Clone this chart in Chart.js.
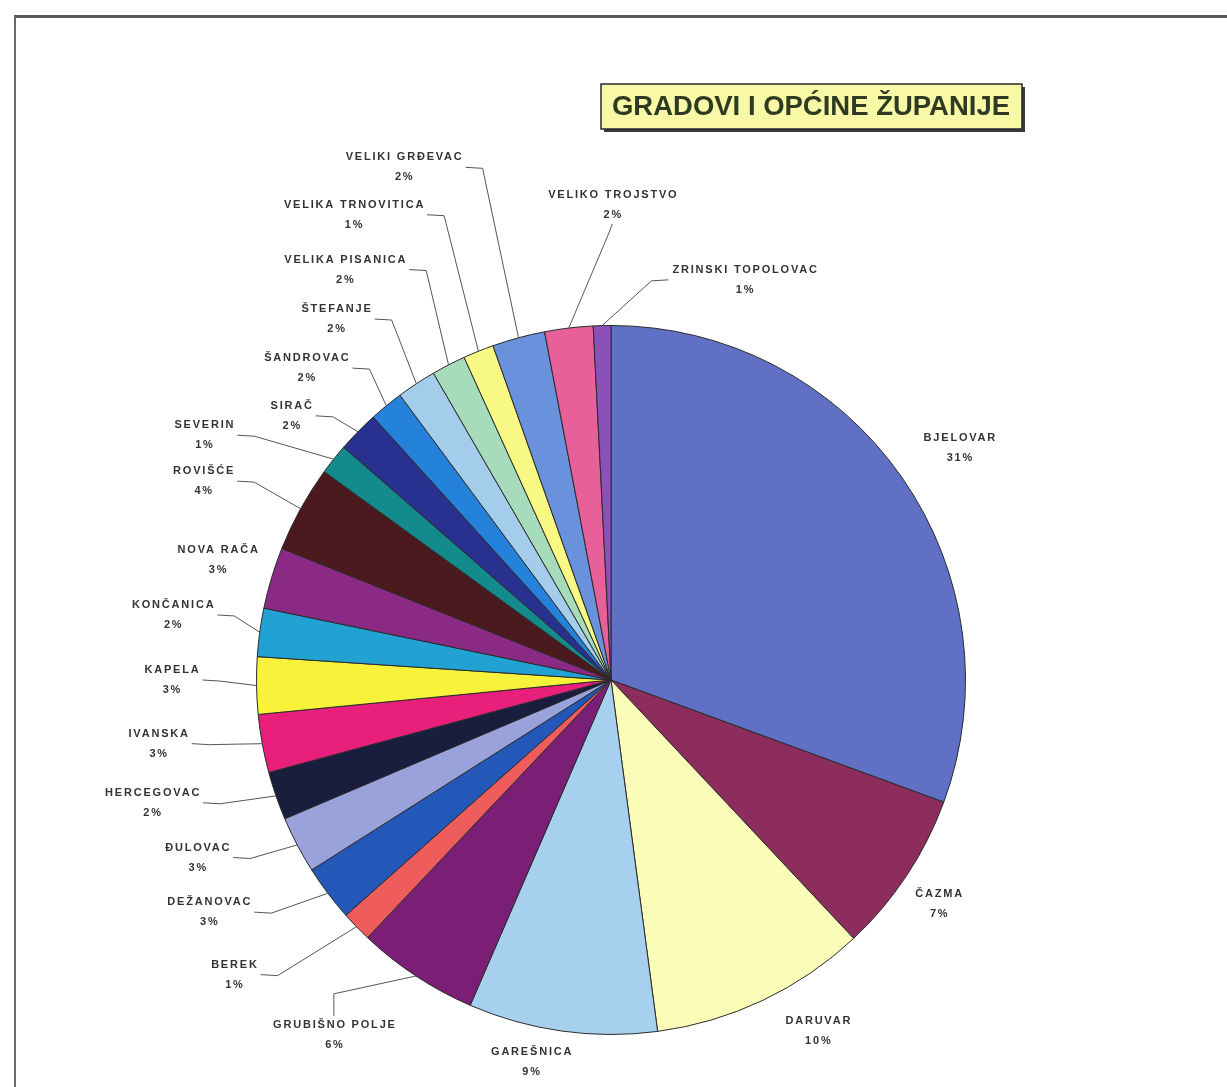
<!DOCTYPE html>
<html><head><meta charset="utf-8">
<script src="https://cdn.jsdelivr.net/npm/chart.js@4.4.0/dist/chart.umd.min.js"></script>
<style>
html,body{margin:0;padding:0;background:#fff;}
#wrap{position:relative;width:1227px;height:1087px;overflow:hidden;background:#fff;}
#frame{position:absolute;left:14px;top:15px;width:1240px;height:1100px;border-top:3px solid #5a5a5a;border-left:2px solid #6a6a6a;}
canvas{position:absolute;left:0;top:0;}
</style></head><body>
<div id="wrap"><div id="frame"></div><canvas id="c" width="1227" height="1087"></canvas></div>
<script>
// ---- data ----
const titleText = 'GRADOVI I OPĆINE ŽUPANIJE';
const categories = ['BJELOVAR','ČAZMA','DARUVAR','GAREŠNICA','GRUBIŠNO POLJE','BEREK','DEŽANOVAC','ĐULOVAC','HERCEGOVAC','IVANSKA','KAPELA','KONČANICA','NOVA RAČA','ROVIŠĆE','SEVERIN','SIRAČ','ŠANDROVAC','ŠTEFANJE','VELIKA PISANICA','VELIKA TRNOVITICA','VELIKI GRĐEVAC','VELIKO TROJSTVO','ZRINSKI TOPOLOVAC'];
const values = [30.6, 7.4, 9.9, 8.6, 5.55, 1.4, 2.55, 2.6, 2.2, 2.65, 2.6, 2.2, 2.8, 3.95, 1.4, 1.9, 1.55, 1.8, 1.55, 1.4, 2.4, 2.2, 0.8];
const colors = ['#6070c4','#8c2d5e','#fafcb8','#a6d0ee','#7a1e76','#ee5c5c','#2458b8','#9aa2dc','#1a1e3e','#e8207c','#f8f23a','#22a2d2','#8a2a84','#4a1a1e','#138a8c','#283090','#2482da','#a4cceb','#a6dcbc','#f8f884','#6a92dc','#e8609a','#8a52b8'];

// ---- label layout (shift from slice mid-angle in degrees, distance in radii) ----
const labelAngleShift = [1.3, 0.9, -5.1, 3.9, 4.6, 6.1, 7, 4.5, 4.1, 2.35, 0.9, 0.7, 0.2, -2.9, -7.5, -4.9, -5, -4, -5.7, -7, -6.9, 7, 19.9];
const labelDistance = [1.18, 1.12, 1.15, 1.10, 1.27, 1.35, 1.31, 1.27, 1.34, 1.29, 1.24, 1.25, 1.16, 1.28, 1.34, 1.17, 1.23, 1.28, 1.38, 1.50, 1.56, 1.34, 1.19];

const labelPlugin = {
  id: 'labels',
  afterDatasetsDraw(chart) {
    const ctx = chart.ctx;
    const meta = chart.getDatasetMeta(0);
    const total = values.reduce((a, b) => a + b, 0);
    ctx.save();
    meta.data.forEach((arc, i) => {
      const p = arc.getProps(['x', 'y', 'startAngle', 'endAngle', 'outerRadius'], true);
      const cx = p.x, cy = p.y, r = p.outerRadius;
      const mid = (p.startAngle + p.endAngle) / 2;
      const ax = cx + r * Math.cos(mid), ay = cy + r * Math.sin(mid);
      const la = mid + labelAngleShift[i] * Math.PI / 180;
      const lr = r * labelDistance[i];
      const lx = cx + lr * Math.cos(la), ly = cy + lr * Math.sin(la);
      const name = categories[i];
      const pct = Math.round(values[i] / total * 100) + '%';
      ctx.font = 'bold 11px "Liberation Sans", Arial, sans-serif';
      ctx.letterSpacing = '1.8px';
      const w = Math.max(ctx.measureText(name).width, ctx.measureText(pct).width);
      const box = { l: lx - w / 2, r: lx + w / 2, t: ly - 17, b: ly + 17 };
      ctx.fillStyle = '#333';
      ctx.textAlign = 'center';
      ctx.textBaseline = 'middle';
      ctx.fillText(name, lx + 1, ly - 10);
      ctx.fillText(pct, lx + 1, ly + 10);
      const dxGap = ax > box.r ? ax - box.r : (ax < box.l ? box.l - ax : 0);
      const dyGap = ay > box.b ? ay - box.b : (ay < box.t ? box.t - ay : 0);
      if (Math.hypot(dxGap, dyGap) > 40) {
        ctx.strokeStyle = '#555';
        ctx.lineWidth = 1;
        ctx.beginPath();
        if (ax > box.r + 25) {
          ctx.moveTo(box.r + 3, ly);
          ctx.lineTo(box.r + 20, ly + 1);
        } else if (ax < box.l - 25) {
          ctx.moveTo(box.l - 3, ly);
          ctx.lineTo(box.l - 20, ly + 1);
        } else if (ay < box.t) {
          ctx.moveTo(lx, box.t - 2);
          ctx.lineTo(lx, box.t - 24);
        } else {
          ctx.moveTo(lx, box.b + 2);
          ctx.lineTo(lx - 3, box.b + 10);
        }
        ctx.lineTo(ax, ay);
        ctx.stroke();
      }
    });
    // title box with shadow
    ctx.letterSpacing = '0px';
    ctx.fillStyle = '#3a3a3a';
    ctx.fillRect(604, 87, 421, 45);
    ctx.fillStyle = '#f8f8a6';
    ctx.fillRect(601, 84, 421, 45);
    ctx.strokeStyle = '#2a2a2a';
    ctx.lineWidth = 1.5;
    ctx.strokeRect(601, 84, 421, 45);
    ctx.font = 'bold 27px "Liberation Sans", Arial, sans-serif';
    const tw = ctx.measureText(titleText).width;
    const target = 398;
    ctx.translate(811, 107);
    ctx.scale(target / tw, 1);
    ctx.fillStyle = '#2e3a22';
    ctx.textAlign = 'center';
    ctx.textBaseline = 'middle';
    ctx.fillText(titleText, 0, 1);
    ctx.restore();
  }
};

new Chart(document.getElementById('c'), {
  type: 'pie',
  data: {
    labels: categories,
    datasets: [{
      data: values,
      backgroundColor: colors,
      borderColor: '#2a2a2a',
      borderWidth: 1
    }]
  },
  options: {
    responsive: false,
    animation: false,
    events: [],
    layout: { padding: { left: 256, right: 261, top: 325, bottom: 52 } },
    plugins: { legend: { display: false }, tooltip: { enabled: false }, title: { display: false } }
  },
  plugins: [labelPlugin]
});
</script>
</body></html>
